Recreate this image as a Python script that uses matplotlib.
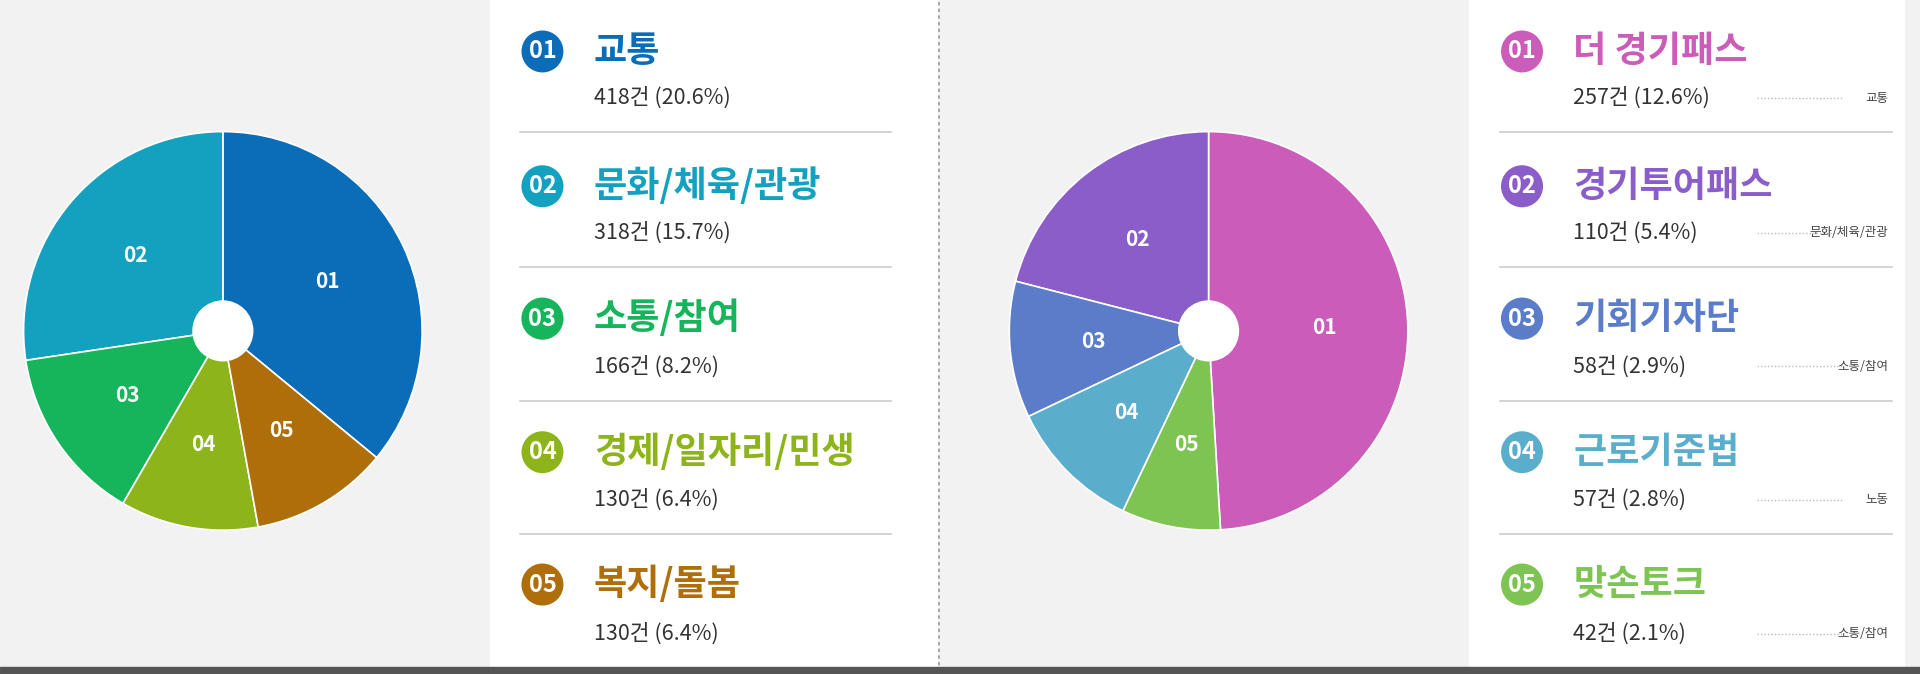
import matplotlib
matplotlib.use("Agg")
import matplotlib.pyplot as plt
from matplotlib.patches import Circle, Rectangle
import numpy as np

plt.rcParams['font.family'] = ['Noto Sans CJK KR', 'DejaVu Sans']

# data
left_nums = ["01", "02", "03", "04", "05"]
left_names = ["교통", "문화/체육/관광", "소통/참여", "경제/일자리/민생", "복지/돌봄"]
left_counts = [418, 318, 166, 130, 130]
left_pcts = [20.6, 15.7, 8.2, 6.4, 6.4]
left_colors = ["#0b6cb8", "#14a1bf", "#17b55b", "#8db41a", "#ae6f0b"]

right_nums = ["01", "02", "03", "04", "05"]
right_names = ["더 경기패스", "경기투어패스", "기회기자단", "근로기준법", "맞손토크"]
right_counts = [257, 110, 58, 57, 42]
right_pcts = [12.6, 5.4, 2.9, 2.8, 2.1]
right_tags = ["교통", "문화/체육/관광", "소통/참여", "노동", "소통/참여"]
right_colors = ["#cc5cb9", "#8b5dc9", "#5b7cc9", "#5aaecb", "#7dc452"]

W, H = 1568.0, 550.0
fig = plt.figure(figsize=(19.2, 6.74), dpi=100)
fig.patch.set_facecolor("#f2f2f2")

def P(x, y):
    return (x / W, 1 - y / H)

def rect(x0, y0, x1, y1, color):
    fig.patches.append(Rectangle(P(x0, y1), (x1 - x0) / W, (y1 - y0) / H,
                                 transform=fig.transFigure, color=color, zorder=0))

rect(400, 0, 765, 545, "white")
rect(1200, 0, 1555, 545, "white")
rect(0, 544, W, 550, "#555555")
fig.add_artist(plt.Line2D([767 / W, 767 / W], [1 - 2 / H, 1 - 544 / H], transform=fig.transFigure,
                          color="#999999", lw=1.2, ls=(0, (2, 2))))

def pie(cx, cy, r, vals, cols, nums):
    ax = fig.add_axes([(cx - r) / W, 1 - (cy + r) / H, 2 * r / W, 2 * r / H])
    start = 90 - 360.0 * vals[0] / sum(vals)
    wedges, _ = ax.pie(vals, colors=cols, startangle=start, counterclock=True,
                       wedgeprops=dict(edgecolor="white", linewidth=1.2))
    for w, n in zip(wedges, nums):
        a = np.deg2rad((w.theta1 + w.theta2) / 2)
        ax.text(0.58 * np.cos(a), 0.58 * np.sin(a), n, color="white", fontsize=15,
                fontweight="bold", ha="center", va="center")
    ax.add_patch(Circle((0, 0), 0.15, color="white", zorder=5))
    ax.set_xlim(-1.02, 1.02); ax.set_ylim(-1.02, 1.02)
    ax.set_aspect("equal"); ax.axis("off")

pie(182, 270, 166, left_counts, left_colors, left_nums)
pie(987, 270, 166, right_counts, right_colors, right_nums)

title_y = [42, 152, 260, 369, 477]
count_y = [80, 190, 299, 408, 517]
sep_y = [108, 218, 327, 436]

def legend(bx, tx, x0, x1, nums, names, counts, pcts, cols, tags=None):
    for i in range(5):
        fig.text(*P(bx, title_y[i]), nums[i], color="white", fontsize=17, fontweight="bold",
                 ha="center", va="center", zorder=3,
                 bbox=dict(boxstyle="circle,pad=0.3", fc=cols[i], ec="none"))
        fig.text(*P(tx, title_y[i]), names[i], color=cols[i], fontsize=26,
                 fontweight="bold", ha="left", va="center")
        fig.text(*P(tx, count_y[i]), f"{counts[i]}건 ({pcts[i]}%)", color="#333333",
                 fontsize=15.5, ha="left", va="center")
        if i < 4:
            fig.add_artist(plt.Line2D([x0 / W, x1 / W], [1 - sep_y[i] / H] * 2,
                                      transform=fig.transFigure, color="#cccccc", lw=1.2))
        if tags:
            fig.add_artist(plt.Line2D([1435 / W, 1505 / W], [1 - count_y[i] / H] * 2,
                                      transform=fig.transFigure, color="#bbbbbb", lw=1,
                                      ls=(0, (1, 1.5))))
            fig.text(*P(1542, count_y[i]), tags[i], color="#444444", fontsize=9,
                     ha="right", va="center")

legend(443, 485, 425, 728, left_nums, left_names, left_counts, left_pcts, left_colors)
legend(1243, 1285, 1225, 1545, right_nums, right_names, right_counts, right_pcts,
       right_colors, right_tags)

fig.savefig("out.png", dpi=100, facecolor=fig.get_facecolor())
